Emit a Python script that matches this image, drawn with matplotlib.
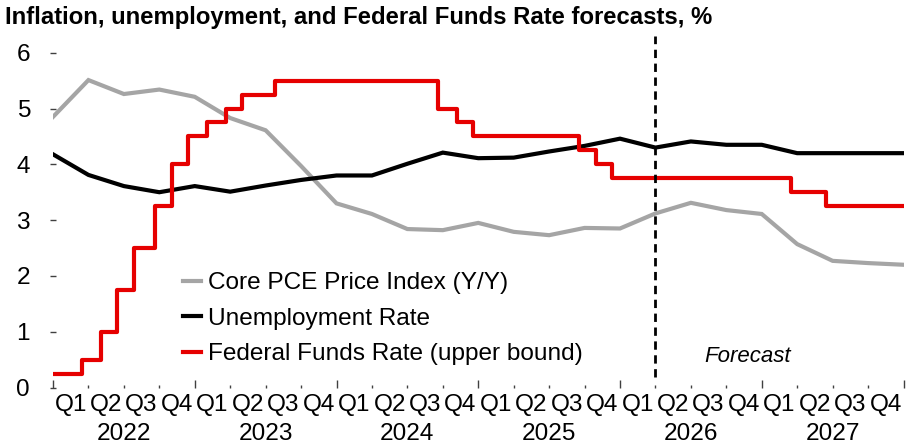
import numpy as np
import matplotlib
matplotlib.use("Agg")
import matplotlib.pyplot as plt
from matplotlib.ticker import MultipleLocator, FixedLocator, NullFormatter

plt.rcParams['font.family'] = ['Liberation Sans', 'DejaVu Sans']

# ---------------- data ----------------
years = ['2022', '2023', '2024', '2025', '2026', '2027']
quarters = ['Q1', 'Q2', 'Q3', 'Q4']

# quarterly observations at quarter boundaries (0 = start of 2022 ... 24 = end of 2027)
core_pce = [4.85, 5.51, 5.26, 5.34, 5.21, 4.83, 4.61, 3.97, 3.30, 3.11, 2.84, 2.82,
            2.95, 2.79, 2.73, 2.86, 2.85, 3.12, 3.31, 3.18, 3.11, 2.57, 2.27, 2.23, 2.20]
unemployment = [4.18, 3.81, 3.61, 3.50, 3.61, 3.51, 3.62, 3.72, 3.80, 3.80, 4.01, 4.21,
                4.11, 4.12, 4.23, 4.33, 4.46, 4.30, 4.41, 4.35, 4.35, 4.20, 4.20, 4.20, 4.20]

# Federal funds rate upper bound: dates on which it changed
fed_dates = ['2022-01-01', '2022-03-17', '2022-05-05', '2022-06-16', '2022-07-28',
             '2022-09-22', '2022-11-03', '2022-12-15', '2023-02-02', '2023-03-23',
             '2023-05-04', '2023-07-27', '2024-09-19', '2024-11-08', '2024-12-19',
             '2025-09-18', '2025-10-30', '2025-12-11', '2027-03-18', '2027-06-17',
             '2028-01-01']
fed_upper = [0.25, 0.5, 1.0, 1.75, 2.5, 3.25, 4.0, 4.5, 4.75, 5.0, 5.25, 5.5,
             5.0, 4.75, 4.5, 4.25, 4.0, 3.75, 3.5, 3.25, 3.25]

forecast_start = 17  # quarter boundary where the forecast begins

labels = ['Core PCE Price Index (Y/Y)', 'Unemployment Rate', 'Federal Funds Rate (upper bound)']
colors = ['#A5A5A5', '#000000', '#E60000']

# ---------------- figure ----------------
W, H = 916, 443
fig = plt.figure(figsize=(W / 100, H / 100), dpi=100)
left, right, bottom, top = 53, 903.5, 387.5, 36
ax = fig.add_axes([left / W, 1 - bottom / H, (right - left) / W, (bottom - top) / H])

qx = np.arange(len(core_pce))
d0 = np.datetime64('2022-01-01')
fed_x = (np.array(fed_dates, dtype='datetime64[D]') - d0).astype(float) / (365.25 / 4)

lw = 3.0
ax.plot(qx, core_pce, color=colors[0], lw=lw, label=labels[0], solid_joinstyle='miter')
ax.plot(qx, unemployment, color=colors[1], lw=lw, label=labels[1], solid_joinstyle='miter')
ax.step(fed_x, fed_upper, where='post', color=colors[2], lw=lw, label=labels[2])

ax.vlines(forecast_start, 0.18, 6.3, colors='black', lw=2, linestyles=(0, (3, 2)))
ax.text(forecast_start + 1.37, 0.55, 'Forecast', style='italic', fontsize=16, va='center', ha='left')

ax.set_xlim(0, 24)
ax.set_ylim(0, 6.3)
for s in ax.spines.values():
    s.set_visible(False)

fs = 17.6
ax.yaxis.set_major_locator(FixedLocator([0, 1, 2, 3, 4, 5, 6]))
ax.tick_params(axis='y', direction='inout', length=5, width=1, color='#404040',
               labelsize=fs, pad=14)
ax.xaxis.set_major_locator(MultipleLocator(4))
ax.xaxis.set_minor_locator(MultipleLocator(1))
ax.xaxis.set_major_formatter(NullFormatter())
ax.tick_params(axis='x', which='major', direction='in', length=6, width=1, color='#404040')
ax.tick_params(axis='x', which='minor', direction='in', length=2, width=1, color='#404040')

trans = ax.get_xaxis_transform()
for yi, yr in enumerate(years):
    for qi, q in enumerate(quarters):
        ax.text(yi * 4 + qi + 0.5, -0.05, q, transform=trans, ha='center', va='center', fontsize=fs)
    ax.text(yi * 4 + 2, -0.131, yr, transform=trans, ha='center', va='center', fontsize=fs)

leg = ax.legend(loc='upper left', bbox_to_anchor=(0.153, 0.328), frameon=False, fontsize=fs,
                handlelength=0.75, handletextpad=0.25, labelspacing=0.55, borderpad=0,
                borderaxespad=0)

fig.text(5 / W, 1 - 24 / H, 'Inflation, unemployment, and Federal Funds Rate forecasts, %',
         fontsize=17.2, fontweight='bold', ha='left', va='baseline')

fig.savefig('out.png', dpi=100)
